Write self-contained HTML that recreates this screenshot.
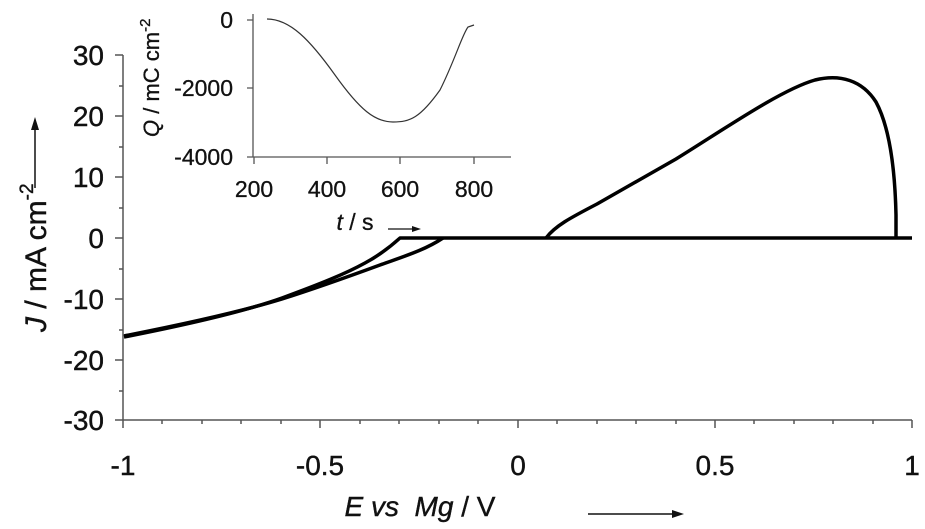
<!DOCTYPE html>
<html><head><meta charset="utf-8"><style>body{margin:0;background:#fff}svg{display:block}</style></head><body>
<svg width="925" height="529" viewBox="0 0 925 529" font-family="Liberation Sans, Arial, sans-serif">
<g stroke="#555" stroke-width="1.5" fill="none">
<line x1="123" y1="55" x2="123" y2="420"/>
<line x1="123" y1="420" x2="912" y2="420"/>
<path d="M115 55H123M119 86H123M115 116H123M119 147H123M115 177H123M119 208H123M115 238H123M119 269H123M115 299H123M119 330H123M115 360H123M119 391H123M115 420H123"/>
<path d="M123 420V428M162 420V424M202 420V424M241 420V424M281 420V424M320 420V428M360 420V424M399 420V424M439 420V424M478 420V424M518 420V428M557 420V424M597 420V424M636 420V424M676 420V424M715 420V428M754 420V424M794 420V424M833 420V424M873 420V424M912 420V428"/>
</g>
<g font-size="28" text-anchor="end" fill="#111" stroke="#111" stroke-width="0.4">
<text x="104" y="65">30</text><text x="104" y="126">20</text><text x="104" y="187">10</text><text x="104" y="248">0</text><text x="104" y="309">-10</text><text x="104" y="370">-20</text><text x="104" y="430">-30</text>
</g>
<g font-size="28" text-anchor="middle" fill="#111" stroke="#111" stroke-width="0.4">
<text x="123" y="475">-1</text><text x="320" y="475">-0.5</text><text x="518" y="475">0</text><text x="715" y="475">0.5</text><text x="912" y="475">1</text>
</g>
<text x="420" y="516" font-size="28" text-anchor="middle" fill="#111" stroke="#111" stroke-width="0.4"><tspan font-style="italic">E vs&#160;&#160;Mg</tspan> / V</text>
<path d="M588 514H672" stroke="#111" stroke-width="1.5"/><path d="M684 514l-12-4v8z" fill="#111"/>
<text transform="translate(46,332) rotate(-90)" font-size="30" fill="#111" stroke="#111" stroke-width="0.4"><tspan font-style="italic">J</tspan> / mA cm<tspan dy="-13" font-size="19">-2</tspan></text>
<path d="M35 188V130" stroke="#111" stroke-width="1.5"/><path d="M35 117l-4 13h8z" fill="#111"/>
<g stroke="#000" stroke-width="3.5" fill="none" stroke-linejoin="round">
<path d="M124,336 C180,325 240,312 282,299 C320,287 350,276 380,265 C405,256 425,250 443,238"/>
<path d="M124,337 C180,326 240,313 282,298 C320,284 345,274 365,263 C380,255 390,247 400,238 L912,238"/>
<path d="M546,238 C555,226 570,218 597,204 L676,159 C720,132 780,90 815,80 C840,74 862,80 876,102 C890,128 895,170 896,215 L896,238"/>
</g>
<g stroke="#555" stroke-width="1.3" fill="none">
<line x1="253" y1="14" x2="253" y2="157"/><line x1="253" y1="157" x2="511" y2="157"/>
<path d="M247 20H253M247 88H253M247 157H253M254 157V164M327 157V164M400 157V164M474 157V164"/>
</g>
<path d="M267 19 C290 19 310 40 335 75 C360 110 375 122 393 122 C410 122 420 118 440 90 C455 60 462 35 468 27 L474 25" stroke="#333" stroke-width="1.2" fill="none"/>
<g font-size="23" fill="#111" text-anchor="end" stroke="#111" stroke-width="0.3">
<text x="233" y="28">0</text><text x="233" y="96">-2000</text><text x="233" y="165">-4000</text>
</g>
<g font-size="23" fill="#111" text-anchor="middle" stroke="#111" stroke-width="0.3">
<text x="254" y="197">200</text><text x="327" y="197">400</text><text x="400" y="197">600</text><text x="474" y="197">800</text>
</g>
<text x="355" y="230" font-size="23" fill="#111" text-anchor="middle" stroke="#111" stroke-width="0.3"><tspan font-style="italic">t</tspan> / s</text>
<path d="M388 229H413" stroke="#111" stroke-width="1.2"/><path d="M421 229l-9-3v6z" fill="#111"/>
<text transform="translate(159,137) rotate(-90)" font-size="22" fill="#111" stroke="#111" stroke-width="0.3"><tspan font-style="italic">Q</tspan> / mC cm<tspan dy="-9" font-size="15">-2</tspan></text>
</svg>
</body></html>
